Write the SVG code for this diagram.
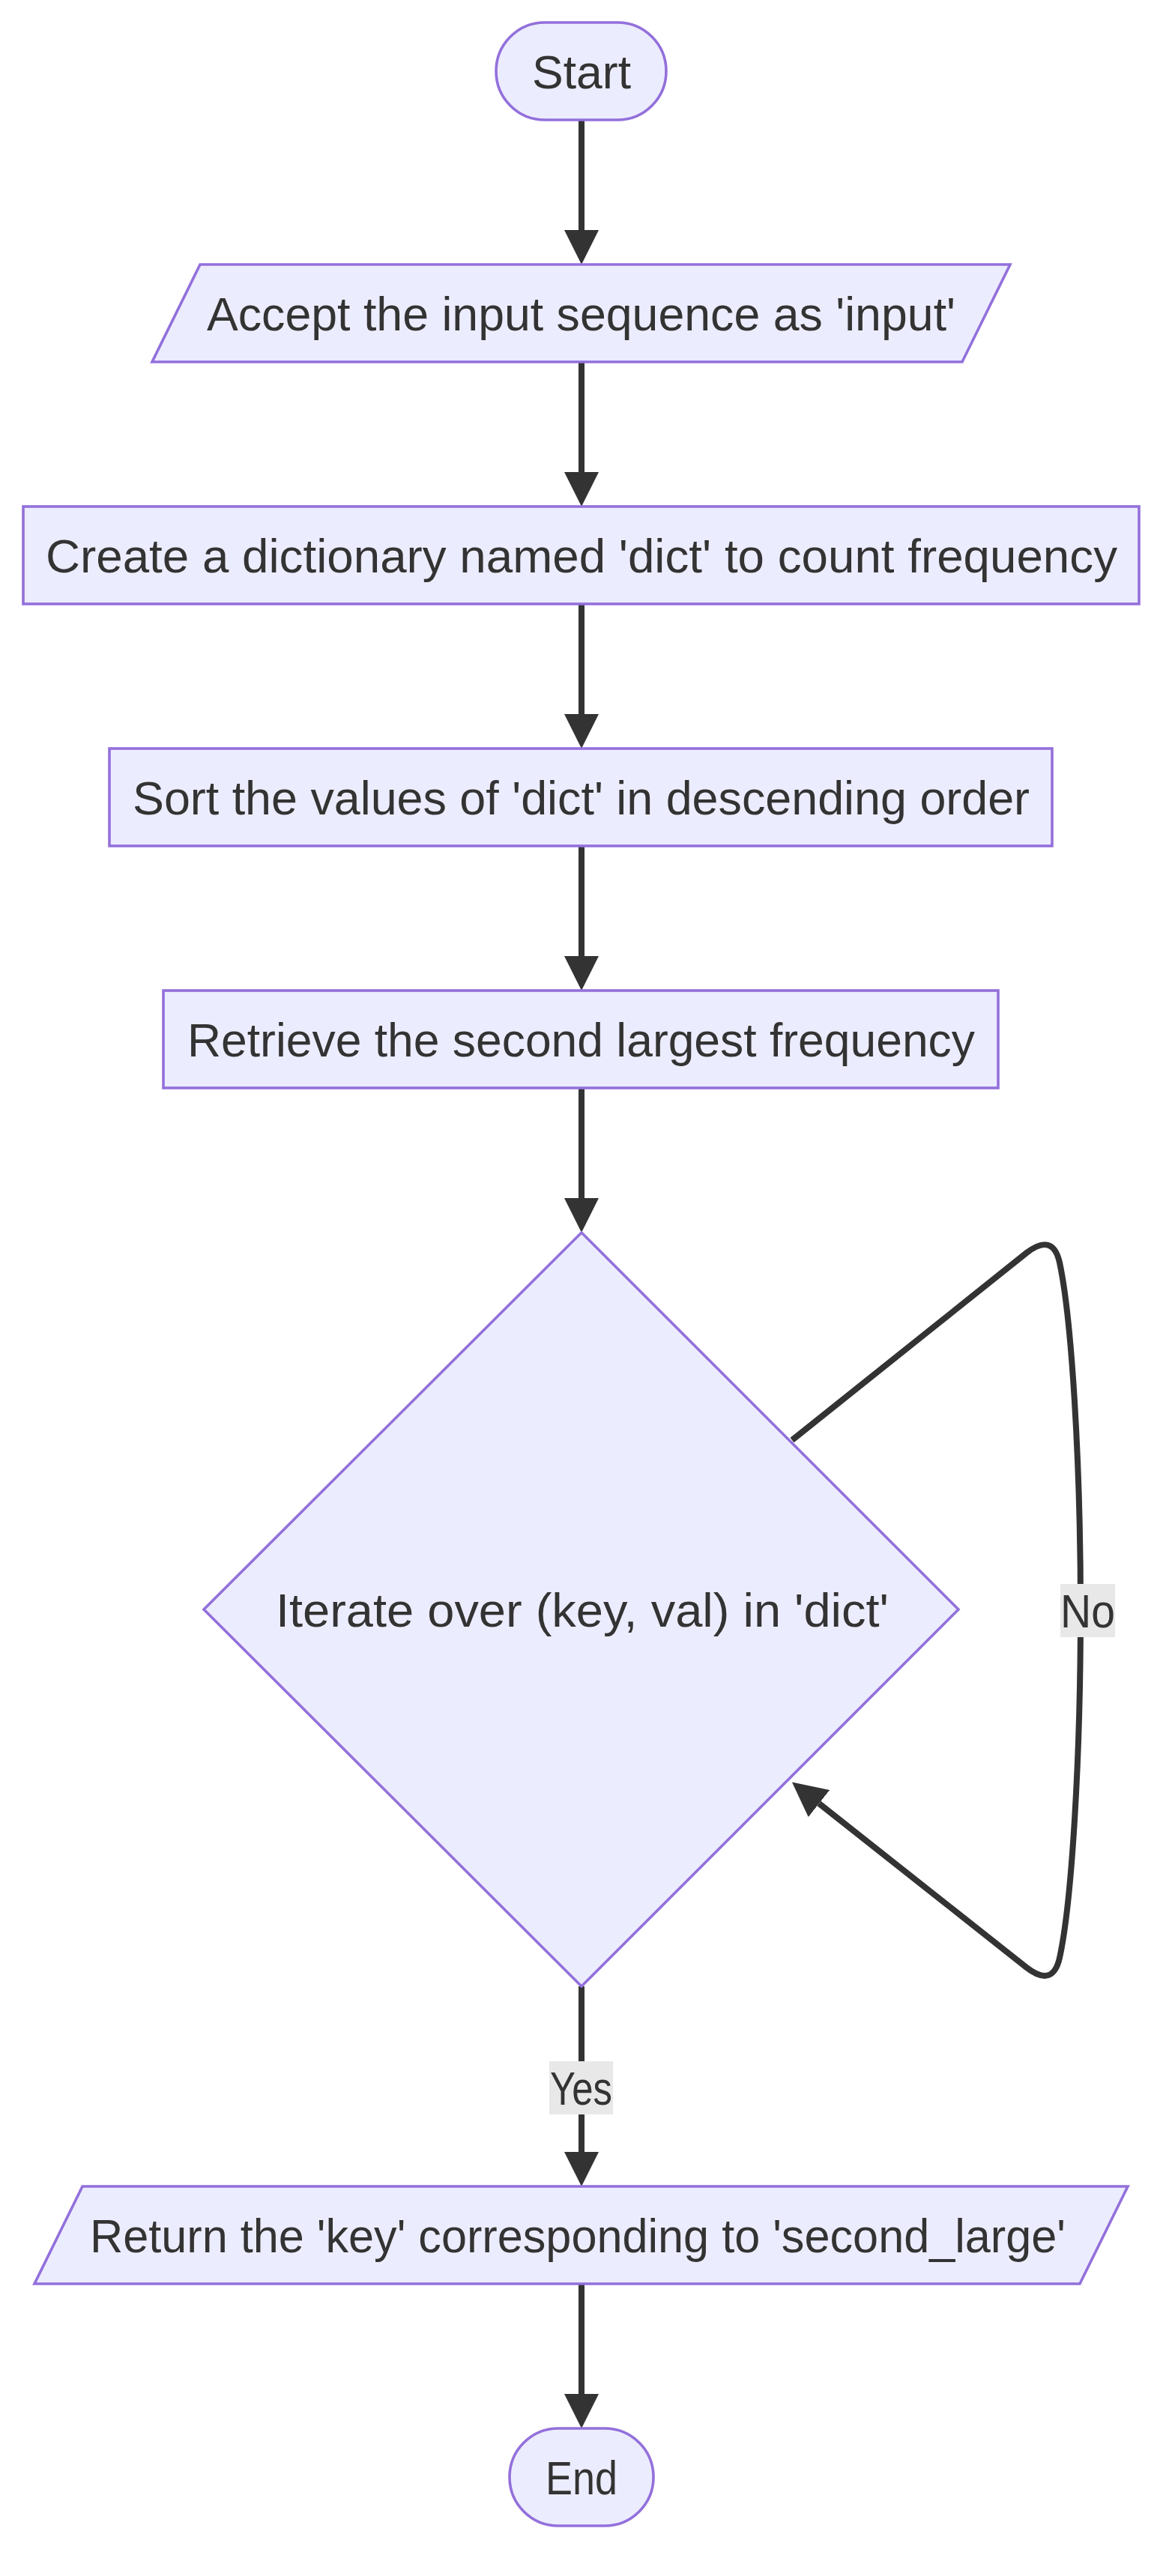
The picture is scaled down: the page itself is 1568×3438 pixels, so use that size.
<svg xmlns="http://www.w3.org/2000/svg" width="1568" height="3438" viewBox="0 0 1568 3438">
<style>
.node{fill:#ECECFF;stroke:#9370DB;stroke-width:3.6;}
.lbl{font-family:"Liberation Sans",Arial,sans-serif;font-size:63px;fill:#333333;text-anchor:middle;}
.edge{fill:none;stroke:#333333;stroke-width:8;}
.ebg{fill:#e8e8e8;}
</style>
<defs>
<marker id="arrow" viewBox="0 0 10 10" refX="0" refY="5" markerUnits="userSpaceOnUse" markerWidth="46" markerHeight="46" orient="auto">
<path d="M0,0 L10,5 L0,10 z" fill="#333333"/>
</marker>
</defs>
<rect width="1568" height="3438" fill="#ffffff"/>
<g id="edges">
<path class="edge" d="M776,160 L776,307" marker-end="url(#arrow)"/>
<path class="edge" d="M776,483 L776,630" marker-end="url(#arrow)"/>
<path class="edge" d="M776,806 L776,953" marker-end="url(#arrow)"/>
<path class="edge" d="M776,1129 L776,1276" marker-end="url(#arrow)"/>
<path class="edge" d="M776,1452 L776,1599" marker-end="url(#arrow)"/>
<path class="edge" d="M1057,1922 L1370,1672 Q1405,1645 1414,1685 C1430,1760 1442,1950 1442,2149 C1442,2350 1430,2540 1414,2613 Q1405,2653 1370,2626 L1093,2407" marker-end="url(#arrow)"/>
<path class="edge" d="M776,2651 L776,2872" marker-end="url(#arrow)"/>
<path class="edge" d="M776,3048 L776,3195" marker-end="url(#arrow)"/>
<g id="label-no">
<rect class="ebg" x="1415" y="2114" width="73" height="71"/>
<text class="lbl" x="1451.5" y="2172" textLength="73" lengthAdjust="spacingAndGlyphs">No</text>
</g>
<g id="label-yes">
<rect class="ebg" x="733" y="2751" width="85" height="71"/>
<text class="lbl" x="775.5" y="2809" textLength="83" lengthAdjust="spacingAndGlyphs">Yes</text>
</g>
</g>
<g id="start">
<rect class="node" x="662" y="30" width="227" height="130" rx="65" ry="65"/>
<text class="lbl" x="776" y="118" textLength="132" lengthAdjust="spacingAndGlyphs">Start</text>
</g>
<g id="accept">
<polygon class="node" points="267,353 1348,353 1284,483 203,483"/>
<text class="lbl" x="775.5" y="441" textLength="999" lengthAdjust="spacingAndGlyphs">Accept the input sequence as 'input'</text>
</g>
<g id="create">
<rect class="node" x="31" y="676" width="1489" height="130"/>
<text class="lbl" x="776" y="764" textLength="1430" lengthAdjust="spacingAndGlyphs">Create a dictionary named 'dict' to count frequency</text>
</g>
<g id="sort">
<rect class="node" x="146" y="999" width="1258" height="130"/>
<text class="lbl" x="775.5" y="1087" textLength="1197" lengthAdjust="spacingAndGlyphs">Sort the values of 'dict' in descending order</text>
</g>
<g id="retrieve">
<rect class="node" x="218" y="1322" width="1114" height="130"/>
<text class="lbl" x="775.5" y="1410" textLength="1051" lengthAdjust="spacingAndGlyphs">Retrieve the second largest frequency</text>
</g>
<g id="iterate">
<polygon class="node" points="776,1645 1279,2148 776,2651 272,2148"/>
<text class="lbl" x="777" y="2171" textLength="818" lengthAdjust="spacingAndGlyphs">Iterate over (key, val) in 'dict'</text>
</g>
<g id="return">
<polygon class="node" points="110,2918 1505,2918 1441,3048 46,3048"/>
<text class="lbl" x="771" y="3006" textLength="1302" lengthAdjust="spacingAndGlyphs">Return the 'key' corresponding to 'second_large'</text>
</g>
<g id="end">
<rect class="node" x="680" y="3241" width="192" height="130" rx="65" ry="65"/>
<text class="lbl" x="776" y="3329" textLength="96" lengthAdjust="spacingAndGlyphs">End</text>
</g>
</svg>
